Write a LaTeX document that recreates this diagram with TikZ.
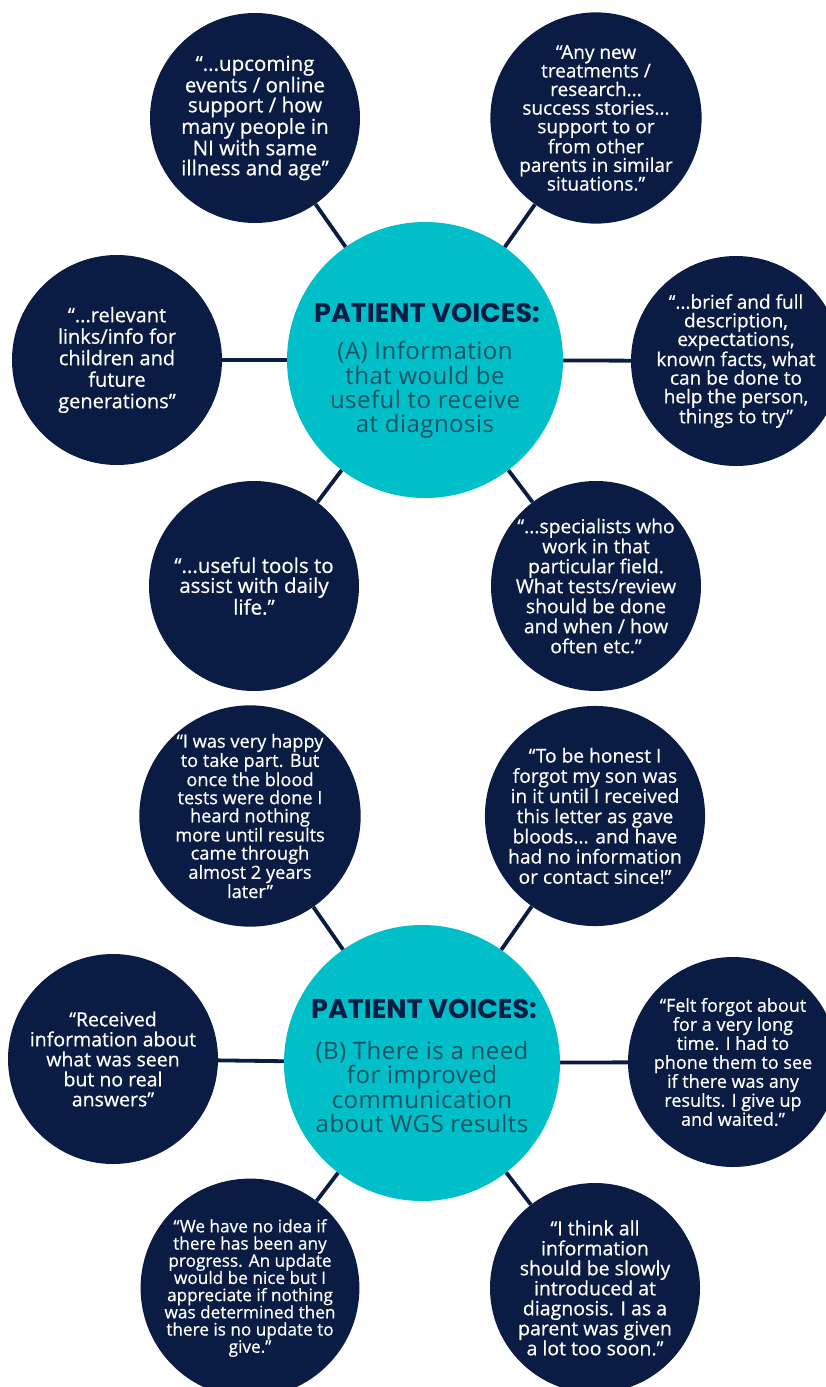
\documentclass[tikz,border=0pt]{standalone}
\usepackage{fontspec}
\setmainfont{Open Sans}
\newfontfamily\titlefont{Poppins}
\newfontfamily\quotefont{Open Sans}[FakeBold=0.6]
\newfontfamily\subfont{Open Sans}[LetterSpace=2]
\definecolor{navy}{RGB}{10,28,68}
\definecolor{teal}{RGB}{0,191,201}
\definecolor{subcol}{RGB}{28,82,100}
\tikzset{
  quote/.style n args={2}{circle, fill=navy, draw=none, minimum size=210pt, inner sep=0pt,
    align=center, text=white, font=\quotefont\fontsize{#1}{#2}\selectfont},
  hub/.style={circle, fill=teal, draw=none, minimum size=276pt, inner sep=0pt},
  hubtitle/.style={text=navy, font=\titlefont\bfseries\fontsize{27}{27}\selectfont, inner sep=0pt, anchor=base},
  hubsub/.style={text=subcol, align=center, font=\subfont\fontsize{24}{24.4}\selectfont, inner sep=0pt},
  link/.style={draw=navy, line width=3.8pt}
}
\begin{document}
\begin{tikzpicture}[x=1pt,y=-1pt]
\useasboundingbox (0,0) rectangle (826,1387);
\clip (0,0) rectangle (826,1387);
% ---------- cluster A ----------
\node[hub] (A) at (425,360) {};
\node[quote={20.5}{20}] (a1) at (255,118) {“...upcoming\\events / online\\support / how\\many people in\\NI with same\\illness and age”};
\node[quote={19}{18.6}] (a2) at (596,118) {“Any new\\treatments /\\research...\\success stories...\\support to or\\from other\\parents in similar\\situations.”};
\node[quote={20}{21.5}] (a3) at (117,360) {“...relevant\\links/info for\\children and\\future\\generations”};
\node[quote={19}{18.6}] (a4) at (736,361) {“...brief and full\\description,\\expectations,\\known facts, what\\can be done to\\help the person,\\things to try”};
\node[quote={20.5}{20}] (a5) at (254,586) {“...useful tools to\\assist with daily\\life.”};
\node[quote={19.3}{20}] (a6) at (596,586) {“...specialists who\\work in that\\particular field.\\What tests/review\\should be done\\and when / how\\often etc.”};
\foreach \n in {a1,a2,a3,a4,a5,a6} \draw[link] (A) -- (\n);
\node[hubtitle] (tA) at (427,322) {PATIENT VOICES:};
\node[hubsub] (sA) at (425,390) {(A) Information\\that would be\\useful to receive\\at diagnosis};
% ---------- cluster B ----------
\node[hub] (B) at (422,1063) {};
\node[quote={18.2}{18.1}] (b1) at (250,816) {“I was very happy\\to take part. But\\once the blood\\tests were done I\\heard nothing\\more until results\\came through\\almost 2 years\\later”};
\node[quote={19.2}{20.2}] (b2) at (595,816) {“To be honest I\\forgot my son was\\in it until I received\\this letter as gave\\bloods... and have\\had no information\\or contact since!”};
\node[quote={19.5}{20}] (b3) at (113,1059) {“Received\\information about\\what was seen\\but no real\\answers”};
\node[quote={18}{19}] (b4) at (733,1062) {“Felt forgot about\\for a very long\\time. I had to\\phone them to see\\if there was any\\results. I give up\\and waited.”};
\node[quote={17.2}{17.2}] (b5) at (250,1288) {“We have no idea if\\there has been any\\progress. An update\\would be nice but I\\appreciate if nothing\\was determined then\\there is no update to\\give.”};
\node[quote={19.5}{20}] (b6) at (595,1288) {“I think all\\information\\should be slowly\\introduced at\\diagnosis. I as a\\parent was given\\a lot too soon.”};
\foreach \n in {b1,b2,b3,b4,b5,b6} \draw[link] (B) -- (\n);
\node[hubtitle] (tB) at (424,1018) {PATIENT VOICES:};
\node[hubsub] (sB) at (422,1087) {(B) There is a need\\for improved\\communication\\about WGS results};
\end{tikzpicture}
\end{document}
